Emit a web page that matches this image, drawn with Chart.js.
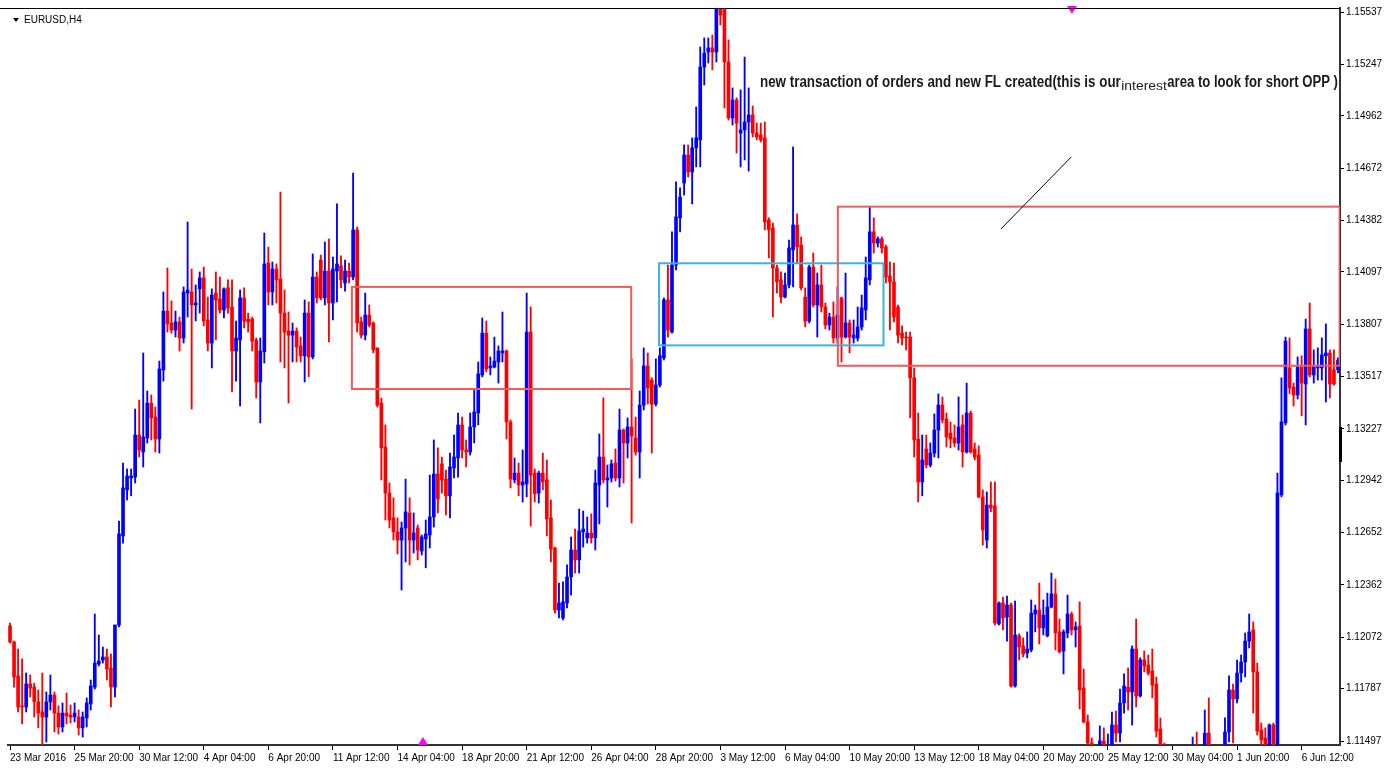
<!DOCTYPE html>
<html>
<head>
<meta charset="utf-8">
<script src="https://cdn.jsdelivr.net/npm/chart.js@4.4.1/dist/chart.umd.min.js"></script>
<style>
  html, body { margin: 0; padding: 0; background: #fff; }
  canvas { display: block; }
</style>
</head>
<body>
<canvas id="chart" width="1386" height="780"></canvas>
<script>
// EURUSD H4 candles, one per 4 hours
const opens = [
  1.12135,1.12046,1.11858,1.11692,1.11686,1.11813,1.11796,1.11714,1.11658,1.11630,
  1.11714,1.11752,1.11652,1.11575,1.11652,1.11641,1.11630,1.11630,1.11570,1.11625,
  1.11703,1.11796,1.11924,1.11946,1.11963,1.11902,1.11796,1.12140,1.12634,1.12889,
  1.12955,1.12960,1.13193,1.13099,1.13177,1.13370,1.13293,1.13171,1.13554,1.13880,
  1.13814,1.13775,1.13820,1.13731,1.13980,1.13986,1.13914,1.14003,1.14064,1.13831,
  1.13703,1.13980,1.13947,1.13886,1.14009,1.13903,1.13659,1.13720,1.13953,1.13836,
  1.13836,1.13720,1.13487,1.13654,1.14146,1.13986,1.14113,1.14058,1.13869,1.13769,
  1.13747,1.13769,1.13687,1.13632,1.13869,1.13626,1.14069,1.14163,1.13953,1.14102,
  1.13925,1.14102,1.14130,1.14036,1.14102,1.14069,1.14330,1.13820,1.13747,1.13858,
  1.13814,1.13676,1.13370,1.13127,1.12872,1.12734,1.12656,1.12611,1.12678,1.12761,
  1.12611,1.12678,1.12550,1.12617,1.12639,1.12739,1.12977,1.13033,1.12949,1.12856,
  1.13011,1.13066,1.13249,1.13110,1.13099,1.13238,1.13315,1.13526,1.13758,1.13565,
  1.13570,1.13598,1.13648,1.13659,1.13266,1.12944,1.12982,1.12916,1.12922,1.13764,
  1.12982,1.12872,1.12982,1.12944,1.12734,1.12567,1.12223,1.12179,1.12262,1.12406,
  1.12556,1.12501,1.12656,1.12623,1.12650,1.12623,1.12916,1.13071,1.12944,1.12955,
  1.13038,1.12955,1.13221,1.13149,1.13238,1.13177,1.13099,1.13359,1.13576,1.13498,
  1.13365,1.13470,1.13621,1.13942,1.13764,1.14135,1.14397,1.14590,1.14745,1.14651,
  1.14785,1.14829,1.15233,1.15316,1.15339,1.15316,1.15555,1.15555,1.15261,1.14951,
  1.15050,1.14867,1.14884,1.14928,1.14967,1.14867,1.14856,1.14840,1.14385,1.14341,
  1.14119,1.14053,1.13958,1.14025,1.14219,1.14357,1.14246,1.13958,1.13825,1.14124,
  1.13914,1.14025,1.13903,1.13803,1.13847,1.13731,1.13953,1.13736,1.13814,1.13731,
  1.13731,1.13792,1.13886,1.14053,1.14319,1.14257,1.14280,1.14235,1.14075,1.14042,
  1.13903,1.13758,1.13736,1.13736,1.13510,1.13171,1.12933,1.13116,1.13027,1.13093,
  1.13221,1.13359,1.13282,1.13204,1.13177,1.13149,1.13249,1.13099,1.13315,1.13116,
  1.13082,1.12850,1.12611,1.12805,1.12800,1.12146,1.12262,1.12184,1.12251,1.11802,
  1.12080,1.12024,1.11985,1.12002,1.12201,1.12223,1.12124,1.12080,1.12240,1.12312,
  1.12102,1.11996,1.12096,1.12201,1.12113,1.12135,1.11791,1.11603,1.11486,1.11436,
  1.11392,1.11497,1.11419,1.11447,1.11586,1.11541,1.11708,1.11796,1.11769,1.12007,
  1.11747,1.11946,1.11918,1.11885,1.11813,1.11564,1.11436,1.11364,1.11336,1.11308,
  1.11348,1.11325,1.11364,1.11381,1.11419,1.11381,1.11364,1.11541,1.11392,1.11336,
  1.11364,1.11403,1.11547,1.11780,1.11730,1.11874,1.11935,1.12051,1.12113,1.11880,
  1.11558,1.11514,1.11436,1.11586,1.11392,1.12861,1.13260,1.13565,1.13459,1.13415,
  1.13570,1.13476,1.13781,1.13526,1.13565,1.13565,1.13632,1.13648,1.13554,1.13554
];
const highs = [
  1.12151,1.12051,1.12007,1.11952,1.11874,1.11863,1.11818,1.11780,1.11874,1.11769,
  1.11863,1.11769,1.11692,1.11708,1.11763,1.11697,1.11708,1.11669,1.11658,1.11736,
  1.11835,1.12201,1.12085,1.12018,1.12007,1.11980,1.12140,1.12716,1.13038,1.13005,
  1.13005,1.13337,1.13387,1.13648,1.13437,1.13415,1.13348,1.13603,1.13986,1.14119,
  1.13936,1.13880,1.13847,1.14014,1.14374,1.14113,1.14025,1.14097,1.14124,1.13958,
  1.14003,1.14097,1.14069,1.14009,1.14053,1.14053,1.13825,1.13997,1.14009,1.13869,
  1.13847,1.13731,1.13731,1.14313,1.14235,1.14152,1.14141,1.14540,1.13997,1.13875,
  1.13814,1.13787,1.13736,1.13942,1.13931,1.14197,1.14097,1.14191,1.14263,1.14280,
  1.14180,1.14474,1.14186,1.14163,1.14146,1.14645,1.14346,1.13847,1.13980,1.13914,
  1.13820,1.13676,1.13399,1.13249,1.12927,1.12845,1.12734,1.12711,1.12949,1.12845,
  1.12761,1.12694,1.12639,1.12722,1.12971,1.13166,1.13122,1.13071,1.12999,1.13093,
  1.13193,1.13315,1.13293,1.13166,1.13315,1.13443,1.13598,1.13842,1.13825,1.13626,
  1.13736,1.13687,1.13875,1.13665,1.13277,1.13066,1.13038,1.13110,1.13980,1.13903,
  1.13005,1.12993,1.13093,1.13055,1.12833,1.12572,1.12373,1.12379,1.12473,1.12628,
  1.12672,1.12783,1.12772,1.12739,1.12756,1.12999,1.13199,1.13399,1.13027,1.13055,
  1.13116,1.13337,1.13227,1.13288,1.13615,1.13293,1.13437,1.13676,1.13648,1.13510,
  1.13615,1.13676,1.13953,1.14135,1.14319,1.14596,1.14563,1.14801,1.14801,1.14840,
  1.15011,1.15344,1.15394,1.15394,1.15410,1.15633,1.15594,1.15605,1.15383,1.15117,
  1.15062,1.15106,1.15288,1.15117,1.15017,1.14922,1.14922,1.14928,1.14397,1.14368,
  1.14135,1.14097,1.14091,1.14274,1.14790,1.14419,1.14291,1.14009,1.14135,1.14202,
  1.14091,1.14135,1.13925,1.13869,1.13931,1.14014,1.13958,1.14091,1.13831,1.13831,
  1.13903,1.13969,1.14180,1.14457,1.14397,1.14291,1.14291,1.14246,1.14152,1.14146,
  1.13914,1.13798,1.13764,1.13764,1.13565,1.13315,1.13193,1.13193,1.13149,1.13310,
  1.13421,1.13404,1.13315,1.13266,1.13249,1.13404,1.13304,1.13481,1.13326,1.13149,
  1.13133,1.12889,1.12878,1.12933,1.12933,1.12268,1.12295,1.12301,1.12262,1.12273,
  1.12091,1.12069,1.12102,1.12279,1.12251,1.12373,1.12279,1.12317,1.12428,1.12395,
  1.12173,1.12113,1.12306,1.12212,1.12157,1.12268,1.11896,1.11641,1.11514,1.11459,
  1.11581,1.11570,1.11536,1.11658,1.11663,1.11785,1.11869,1.11902,1.12024,1.12173,
  1.11958,1.11996,1.11974,1.12007,1.11852,1.11625,1.11486,1.11436,1.11419,1.11403,
  1.11430,1.11414,1.11447,1.11519,1.11547,1.11436,1.11669,1.11736,1.11436,1.11419,
  1.11447,1.11625,1.11858,1.11813,1.11946,1.11974,1.12096,1.12201,1.12157,1.11929,
  1.11597,1.11570,1.11592,1.11597,1.12982,1.13510,1.13736,1.13731,1.13481,1.13626,
  1.13632,1.13836,1.13925,1.13665,1.13676,1.13731,1.13809,1.13665,1.13665,1.13621
];
const lows = [
  1.12040,1.11796,1.11658,1.11592,1.11658,1.11741,1.11630,1.11570,1.11459,1.11492,
  1.11669,1.11547,1.11536,1.11547,1.11592,1.11597,1.11603,1.11530,1.11519,1.11575,
  1.11669,1.11785,1.11913,1.11929,1.11835,1.11686,1.11741,1.12129,1.12594,1.12833,
  1.12856,1.12927,1.13071,1.13016,1.13149,1.13166,1.13099,1.13093,1.13492,1.13764,
  1.13758,1.13736,1.13659,1.13703,1.13847,1.13337,1.13825,1.13869,1.13798,1.13659,
  1.13565,1.13720,1.13869,1.13842,1.13869,1.13432,1.13492,1.13354,1.13787,1.13764,
  1.13659,1.13399,1.13260,1.13592,1.13914,1.13914,1.13925,1.13598,1.13565,1.13370,
  1.13598,1.13598,1.13598,1.13487,1.13515,1.13615,1.13925,1.13942,1.13914,1.13709,
  1.13831,1.13931,1.14009,1.13991,1.14036,1.14053,1.13764,1.13731,1.13720,1.13792,
  1.13648,1.13348,1.12944,1.12722,1.12678,1.12611,1.12534,1.12334,1.12490,1.12473,
  1.12539,1.12501,1.12528,1.12457,1.12567,1.12683,1.12761,1.12872,1.12750,1.12734,
  1.12955,1.12960,1.13066,1.13016,1.13082,1.13149,1.13249,1.13515,1.13543,1.13526,
  1.13565,1.13481,1.13598,1.13171,1.12900,1.12927,1.12856,1.12822,1.12850,1.12689,
  1.12822,1.12816,1.12889,1.12634,1.12490,1.12206,1.12179,1.12168,1.12235,1.12306,
  1.12428,1.12428,1.12572,1.12594,1.12594,1.12556,1.12700,1.12927,1.12794,1.12933,
  1.12938,1.12905,1.12927,1.13066,1.12705,1.13082,1.12955,1.13332,1.13365,1.13093,
  1.13354,1.13459,1.13609,1.13736,1.13758,1.14108,1.14319,1.14523,1.14623,1.14474,
  1.14679,1.14679,1.15133,1.15255,1.15217,1.15261,1.15466,1.15006,1.14939,1.14911,
  1.14756,1.14679,1.14718,1.14656,1.14845,1.14829,1.14818,1.14330,1.14175,1.13847,
  1.13980,1.13925,1.13953,1.14009,1.14014,1.14146,1.13997,1.13792,1.13814,1.13903,
  1.13736,1.13875,1.13781,1.13775,1.13703,1.13703,1.13598,1.13731,1.13648,1.13703,
  1.13714,1.13775,1.13831,1.14025,1.14202,1.14235,1.14202,1.14036,1.13775,1.13820,
  1.13703,1.13692,1.13665,1.13288,1.13071,1.12822,1.12856,1.13011,1.13016,1.13071,
  1.13066,1.13260,1.13127,1.13122,1.13127,1.13110,1.13016,1.13093,1.13093,1.13055,
  1.12845,1.12583,1.12567,1.12767,1.12140,1.12140,1.12113,1.12051,1.11796,1.11796,
  1.11946,1.11963,1.11958,1.11991,1.12102,1.12035,1.12085,1.12074,1.12235,1.12002,
  1.11985,1.11869,1.12069,1.12085,1.12018,1.11675,1.11597,1.11464,1.11392,1.11308,
  1.11364,1.11392,1.11381,1.11414,1.11492,1.11492,1.11652,1.11669,1.11586,1.11686,
  1.11741,1.11880,1.11863,1.11736,1.11519,1.11392,1.11336,1.11281,1.11253,1.11225,
  1.11281,1.11253,1.11308,1.11336,1.11348,1.11308,1.11348,1.11364,1.11292,1.11281,
  1.11308,1.11381,1.11492,1.11486,1.11708,1.11824,1.11852,1.12013,1.11652,1.11530,
  1.11470,1.11414,1.11403,1.11381,1.11364,1.12850,1.13249,1.13421,1.13354,1.13393,
  1.13299,1.13249,1.13515,1.13481,1.13498,1.13498,1.13376,1.13399,1.13470,1.13537
];
const closes = [
  1.12046,1.11852,1.11686,1.11686,1.11813,1.11791,1.11714,1.11652,1.11630,1.11714,
  1.11752,1.11652,1.11575,1.11652,1.11636,1.11630,1.11652,1.11570,1.11630,1.11708,
  1.11802,1.11929,1.11940,1.11963,1.11896,1.11796,1.12140,1.12645,1.12900,1.12966,
  1.12966,1.13193,1.13110,1.13182,1.13370,1.13288,1.13171,1.13559,1.13880,1.13809,
  1.13775,1.13820,1.13731,1.13986,1.13997,1.13914,1.13925,1.14064,1.13825,1.13703,
  1.13969,1.13942,1.13886,1.14003,1.13898,1.13659,1.13731,1.13953,1.13825,1.13820,
  1.13714,1.13487,1.13659,1.14141,1.13986,1.14113,1.14053,1.13869,1.13764,1.13747,
  1.13769,1.13681,1.13632,1.13869,1.13626,1.14069,1.13953,1.13953,1.14102,1.13925,
  1.14113,1.14141,1.14053,1.14102,1.14069,1.14330,1.13814,1.13747,1.13858,1.13803,
  1.13665,1.13359,1.13122,1.12872,1.12722,1.12656,1.12611,1.12678,1.12767,1.12611,
  1.12650,1.12556,1.12628,1.12645,1.12739,1.12977,1.12839,1.12944,1.12856,1.13016,
  1.13071,1.13249,1.13110,1.13099,1.13238,1.13321,1.13532,1.13758,1.13559,1.13576,
  1.13603,1.13659,1.13659,1.13266,1.12949,1.12982,1.12916,1.12933,1.13764,1.12971,
  1.12867,1.12982,1.12933,1.12728,1.12561,1.12223,1.12262,1.12268,1.12406,1.12556,
  1.12501,1.12661,1.12672,1.12650,1.12623,1.12927,1.13071,1.12944,1.12955,1.13033,
  1.12955,1.13221,1.13149,1.13238,1.13188,1.13099,1.13359,1.13576,1.13454,1.13365,
  1.13470,1.13632,1.13942,1.13775,1.14135,1.14402,1.14512,1.14745,1.14651,1.14785,
  1.14840,1.15233,1.15310,1.15339,1.15316,1.15555,1.15521,1.15261,1.14951,1.15050,
  1.14922,1.14884,1.14928,1.14967,1.14867,1.14845,1.14829,1.14374,1.14330,1.14119,
  1.14042,1.13958,1.14025,1.14230,1.14357,1.14235,1.14009,1.13825,1.14124,1.13914,
  1.14025,1.13903,1.13803,1.13847,1.13731,1.13858,1.13736,1.13814,1.13736,1.13747,
  1.13792,1.13898,1.14064,1.14319,1.14257,1.14280,1.14230,1.14069,1.14042,1.13847,
  1.13747,1.13731,1.13731,1.13510,1.13166,1.12933,1.13055,1.13027,1.13093,1.13221,
  1.13359,1.13277,1.13182,1.13171,1.13149,1.13238,1.13099,1.13315,1.13099,1.13071,
  1.12850,1.12667,1.12805,1.12789,1.12151,1.12262,1.12179,1.12251,1.11802,1.12085,
  1.12018,1.11980,1.12007,1.12206,1.12223,1.12124,1.12195,1.12240,1.12312,1.12096,
  1.11991,1.12102,1.12201,1.12113,1.12129,1.11780,1.11603,1.11486,1.11447,1.11364,
  1.11497,1.11436,1.11470,1.11586,1.11541,1.11708,1.11802,1.11769,1.12007,1.11747,
  1.11946,1.11913,1.11874,1.11807,1.11552,1.11436,1.11364,1.11336,1.11308,1.11348,
  1.11325,1.11364,1.11392,1.11419,1.11381,1.11348,1.11541,1.11392,1.11336,1.11364,
  1.11403,1.11547,1.11780,1.11730,1.11874,1.11935,1.12051,1.12102,1.11880,1.11552,
  1.11503,1.11447,1.11586,1.11419,1.12872,1.13266,1.13714,1.13454,1.13415,1.13570,
  1.13481,1.13781,1.13526,1.13570,1.13576,1.13637,1.13648,1.13476,1.13476,1.13609
];

// time axis: a label every 16 bars (64 hours of trading)
const tickLabels = [
  '23 Mar 2016', '25 Mar 20:00', '30 Mar 12:00', '4 Apr 04:00', '6 Apr 20:00',
  '11 Apr 12:00', '14 Apr 04:00', '18 Apr 20:00', '21 Apr 12:00', '26 Apr 04:00',
  '28 Apr 20:00', '3 May 12:00', '6 May 04:00', '10 May 20:00', '13 May 12:00',
  '18 May 04:00', '20 May 20:00', '25 May 12:00', '30 May 04:00', '1 Jun 20:00',
  '6 Jun 12:00'
];
const tickStep = 16;
const priceTicks = [
  1.15537, 1.15247, 1.14962, 1.14672, 1.14382, 1.14097, 1.13807, 1.13517,
  1.13227, 1.12942, 1.12652, 1.12362, 1.12072, 1.11787, 1.11497
];

// drawn objects: zones (bar index range + price range), trend line, notes, arrows
const zones = [
  { from: 84.7, to: 153.9, top: 1.14014, bottom: 1.13448, color: '#f05a5a' },
  { from: 160.8, to: 216.4, top: 1.14145, bottom: 1.13690, color: '#3fb0e0' },
  { from: 205.1, to: 329.4, top: 1.14459, bottom: 1.13577, color: '#f05a5a' }
];
const trendLine = { from: 245.5, to: 262.9, start: 1.14335, end: 1.14734 };
const notes = [
  { text: 'new transaction of orders and new FL created(this is our', from: 185.8, to: 275.2, price: 1.15144, size: 16, weight: 'bold' },
  { text: 'interest', from: 275.3, to: 286.6, price: 1.15125, size: 12, weight: 'normal' },
  { text: 'area to look for short OPP )', from: 286.7, to: 329.0, price: 1.15144, size: 16, weight: 'bold' }
];
const arrows = [
  { at: 263.1, price: 1.15549, dir: -1 },
  { at: 102.3, price: 1.11497, dir: 1 }
];
const axisMark = { top: 1.13238, bottom: 1.13044 };

const candles = opens.map((_, i) => i);
const UP = '#0000ff', DOWN = '#ff0000';
const colors = opens.map((o, i) => (closes[i] >= o ? UP : DOWN));

const overlay = {
  id: 'overlay',
  afterDatasetsDraw(chart) {
    const { ctx, chartArea: a, scales: { x, y } } = chart;
    ctx.save();
    ctx.beginPath();
    ctx.rect(a.left, a.top, a.right - a.left, a.bottom - a.top);
    ctx.clip();

    zones.forEach(z => {
      const x0 = x.getPixelForValue(z.from);
      const x1 = x.getPixelForValue(z.to);
      const y0 = y.getPixelForValue(z.top);
      const y1 = y.getPixelForValue(z.bottom);
      ctx.strokeStyle = z.color;
      ctx.lineWidth = 2;
      ctx.strokeRect(x0, y0, x1 - x0, y1 - y0);
    });

    ctx.strokeStyle = '#000';
    ctx.lineWidth = 1;
    ctx.beginPath();
    ctx.moveTo(x.getPixelForValue(trendLine.from), y.getPixelForValue(trendLine.start));
    ctx.lineTo(x.getPixelForValue(trendLine.to), y.getPixelForValue(trendLine.end));
    ctx.stroke();

    ctx.fillStyle = '#1a1a1a';
    ctx.textBaseline = 'middle';
    notes.forEach(n => {
      ctx.font = n.weight + ' ' + n.size + 'px "Liberation Sans", Arial, sans-serif';
      const left = x.getPixelForValue(n.from);
      const width = x.getPixelForValue(n.to) - left;
      const measured = ctx.measureText(n.text).width;
      ctx.save();
      ctx.translate(left, y.getPixelForValue(n.price));
      ctx.scale(width / measured, 1);
      ctx.fillText(n.text, 0, 0);
      ctx.restore();
    });
    ctx.restore();

    // arrows sit on the frame edges, so no clipping
    ctx.save();
    ctx.fillStyle = '#ff00ff';
    arrows.forEach(m => {
      const px = x.getPixelForValue(m.at);
      const py = y.getPixelForValue(m.price);
      ctx.beginPath();
      ctx.moveTo(px, py - 4 * m.dir);
      ctx.lineTo(px - 5, py + 4 * m.dir);
      ctx.lineTo(px + 5, py + 4 * m.dir);
      ctx.closePath();
      ctx.fill();
    });

    // frame top line
    ctx.strokeStyle = '#000';
    ctx.lineWidth = 1;
    ctx.beginPath();
    ctx.moveTo(0, a.top + 0.5);
    ctx.lineTo(a.right, a.top + 0.5);
    ctx.stroke();

    // dark mark on the price scale
    ctx.fillStyle = '#000';
    const m0 = y.getPixelForValue(axisMark.top);
    const m1 = y.getPixelForValue(axisMark.bottom);
    ctx.fillRect(a.right - 1, m0, 3, m1 - m0);

    // symbol caption
    ctx.beginPath();
    ctx.moveTo(a.left + 5, a.top + 10);
    ctx.lineTo(a.left + 11, a.top + 10);
    ctx.lineTo(a.left + 8, a.top + 14);
    ctx.closePath();
    ctx.fill();
    ctx.font = '10px "Liberation Sans", Arial, sans-serif';
    ctx.textBaseline = 'middle';
    ctx.fillText('EURUSD,H4', a.left + 16, a.top + 12);
    ctx.restore();
  }
};

new Chart(document.getElementById('chart'), {
  type: 'bar',
  data: {
    labels: candles,
    datasets: [
      {
        label: 'body',
        data: opens.map((o, i) => [o, closes[i]]),
        backgroundColor: colors,
        barThickness: 3,
        minBarLength: 1,
        borderWidth: 0,
        grouped: false,
        order: 0
      },
      {
        label: 'wick',
        data: lows.map((l, i) => [l, highs[i]]),
        backgroundColor: colors,
        barThickness: 1.2,
        borderWidth: 0,
        grouped: false,
        order: 1
      }
    ]
  },
  options: {
    responsive: false,
    animation: false,
    devicePixelRatio: 1,
    layout: { padding: { top: 8, left: 8, right: 0, bottom: 0 } },
    plugins: {
      legend: { display: false },
      tooltip: { enabled: false }
    },
    scales: {
      x: {
        type: 'category',
        offset: true,
        grid: { display: true, drawOnChartArea: false, drawTicks: true, tickLength: 5, color: '#000', offset: false },
        border: { display: true, color: '#333', width: 2 },
        ticks: {
          autoSkip: false,
          maxRotation: 0,
          minRotation: 0,
          align: 'start',
          padding: 2,
          color: '#000',
          font: { family: '"Liberation Sans", Arial, sans-serif', size: 10 },
          callback: (value, index) => tickLabels[index]
        },
        afterBuildTicks: axis => {
          axis.ticks = tickLabels.map((_, k) => ({ value: k * tickStep }));
        },
        afterFit: axis => { axis.height = 35; }
      },
      y: {
        position: 'right',
        min: 1.11475,
        max: 1.1556,
        grid: { drawOnChartArea: false, tickLength: 4, color: '#000' },
        border: { display: true, color: '#333', width: 2 },
        ticks: {
          padding: 2,
          color: '#000',
          font: { family: '"Liberation Sans", Arial, sans-serif', size: 10 },
          callback: value => value.toFixed(5)
        },
        afterBuildTicks: axis => {
          axis.ticks = priceTicks.map(v => ({ value: v }));
        },
        afterFit: axis => { axis.width = 46; }
      }
    }
  },
  plugins: [overlay]
});
</script>
</body>
</html>
